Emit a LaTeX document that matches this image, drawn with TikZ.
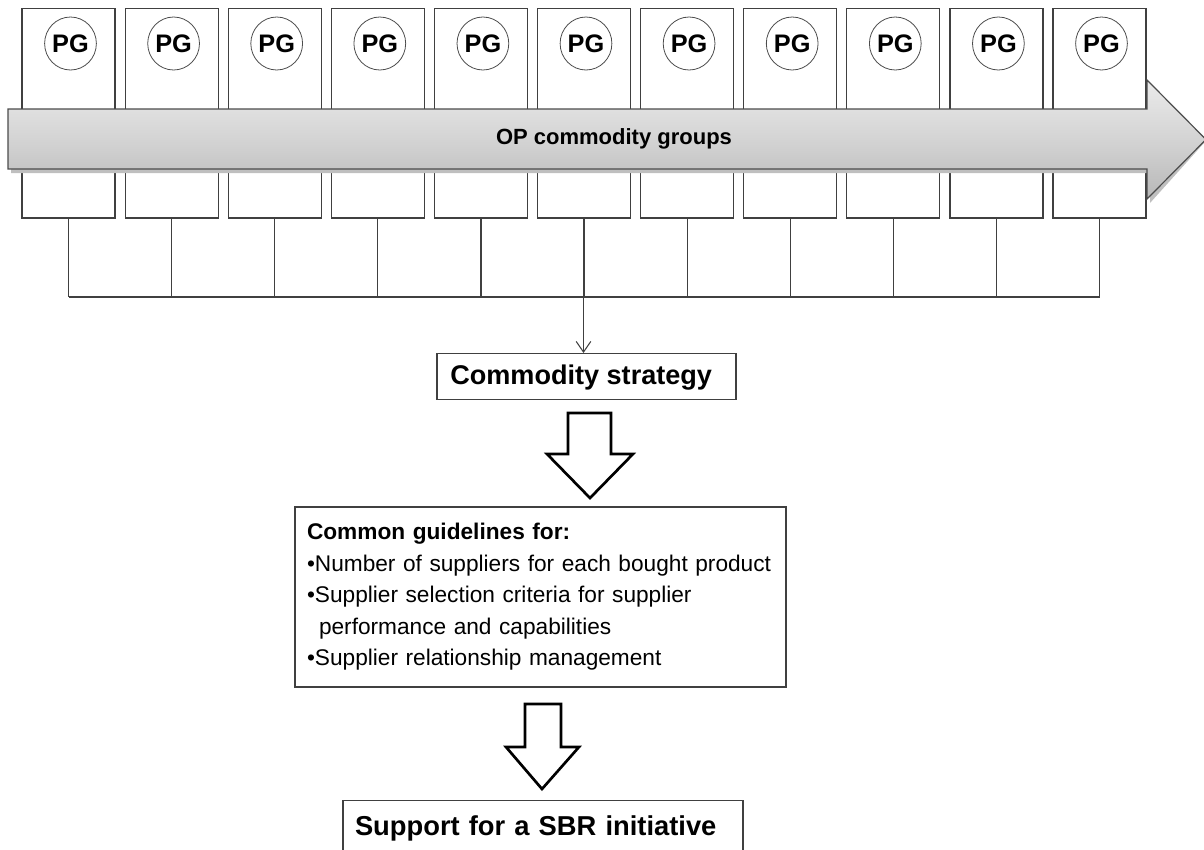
\documentclass[tikz,border=0pt]{standalone}
\usepackage{fontspec}
\setmainfont{Liberation Sans}
\usetikzlibrary{shapes.geometric,arrows.meta}
\begin{document}
\begin{tikzpicture}[x=0.75pt,y=-0.75pt,
  pgbox/.style={draw=black!75,line width=0.9pt,minimum width=93*0.75pt,minimum height=209.5*0.75pt,inner sep=0pt},
  pgcirc/.style={ellipse,draw=black!70,line width=0.6pt,minimum width=46*0.75pt,minimum height=53*0.75pt,inner sep=0pt,font=\fontsize{19}{19}\selectfont\bfseries},
  link/.style={draw=black!75,line width=0.9pt},
  blockarrow/.style={draw=black,line width=2pt,fill=white,line join=miter},
  plainbox/.style={draw=black!75,line width=0.9pt,inner ysep=0pt}
]
\useasboundingbox (0,0) rectangle (1204,850);
\clip (0,0) rectangle (1204,850);
% commodity group boxes
\foreach \i in {1,...,11}{
  \node[pgbox] (b\i) at ({68.5+103.1*(\i-1)},113.25) {};
  \node[pgcirc] (c\i) at ({70.5+103.1*(\i-1)},43.5) {PG};
}
% band shadow
\fill[black!25] (11,113) -- (1150,113) -- (1150,84) -- (1204,143) -- (1150,203) -- (1150,173) -- (11,173) -- cycle;
% band arrow
\draw[draw=black!70,line width=0.9pt,top color=black!8,bottom color=black!28,middle color=black!17]
  (8,109) -- (1147,109) -- (1147,80) -- (1206,139.5) -- (1147,199) -- (1147,169) -- (8,169) -- cycle;
\node[font=\fontsize{16.5}{16.5}\selectfont\bfseries] (band) at (614,139) {OP commodity groups};
% connectors
\coordinate (hl) at (0,297);
\foreach \i in {1,...,11}{
  \draw[link] (b\i.south) -- (b\i.south |- hl);
}
\draw[link] (b1.south |- hl) -- (b11.south |- hl);
% commodity strategy
\node[plainbox,anchor=north,minimum width=299*0.75pt,text height=31*0.75pt,text depth=15*0.75pt,font=\fontsize{20.3}{20.3}\selectfont\bfseries] (cs) at (586.5,353) {Commodity strategy\hspace*{8pt}};
\draw[link,line width=0.8pt,-{Straight Barb[length=8pt,width=11pt]}] (cs.north |- hl) ++(-3,0) coordinate (ca) -- (ca |- cs.north);
% block arrow 1
\draw[blockarrow] (568,413) -- (611,413) -- (611,454) -- (633,454) -- (590,498) -- (547,454) -- (568,454) -- cycle;
% guidelines
\node[plainbox,inner xsep=12*0.75pt,minimum width=491*0.75pt,minimum height=180*0.75pt,text width=467*0.75pt,align=left,font=\fontsize{17}{23.6}\selectfont] (gl) at (540.5,597)
{\textbf{Common guidelines for:}\\
•Number of suppliers for each bought product\\
•Supplier selection criteria for supplier\\
\hspace*{9pt}performance and capabilities\\
•Supplier relationship management};
% block arrow 2
\draw[blockarrow] (525,704) -- (561,704) -- (561,747) -- (579,747) -- (542,789) -- (506,747) -- (525,747) -- cycle;
% SBR
\node[plainbox,anchor=north,inner xsep=12*0.75pt,text width=376*0.75pt,align=left,text height=35*0.75pt,text depth=25*0.75pt,font=\fontsize{20.5}{20.5}\selectfont\bfseries] (sbr) at (543,800) {Support for a SBR initiative};
\end{tikzpicture}
\end{document}
